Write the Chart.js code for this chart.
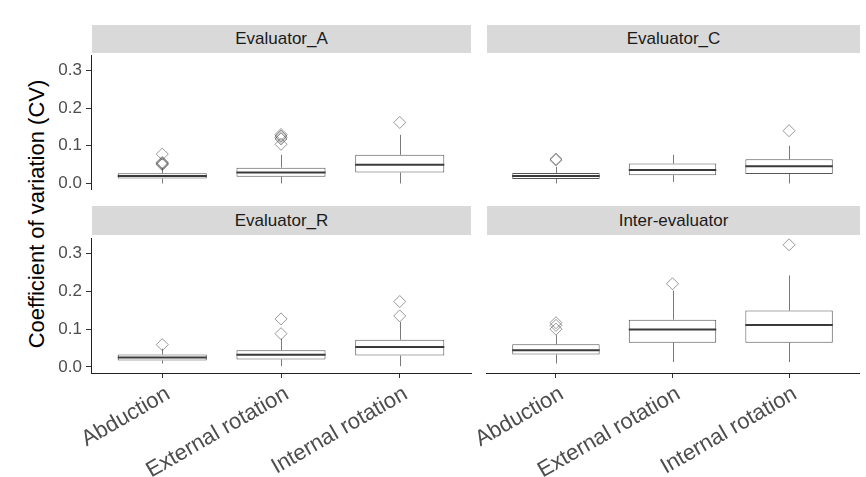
<!DOCTYPE html>
<html>
<head>
<meta charset="utf-8">
<script src="https://cdn.jsdelivr.net/npm/chart.js@4.4.1/dist/chart.umd.min.js"></script>
<style>
  body { margin: 0; background: #fff; }
  #wrap { position: relative; width: 866px; height: 477px; overflow: hidden; font-family: "Liberation Sans", Arial, sans-serif; }
  #wrap canvas { position: absolute; left: 0; top: 0; }
  .strip { position: absolute; background: #d9d9d9; color: #1a1a1a; font-size: 17px; text-align: center; }
  #ytitle { position: absolute; left: 37px; top: 214px; transform: translate(-50%, -50%) rotate(-90deg); font-size: 22px; white-space: nowrap; color: #000; }
</style>
</head>
<body>
<div id="wrap">
  <div class="strip" style="left:92px;top:25px;width:379px;height:28px;line-height:28px">Evaluator_A</div>
  <div class="strip" style="left:487px;top:25px;width:373px;height:28px;line-height:28px">Evaluator_C</div>
  <div class="strip" style="left:92px;top:206px;width:379px;height:29px;line-height:29px">Evaluator_R</div>
  <div class="strip" style="left:487px;top:206px;width:373px;height:29px;line-height:29px">Inter-evaluator</div>
  <div id="ytitle">Coefficient of variation (CV)</div>
  <canvas id="chartA" width="866" height="477"></canvas>
  <canvas id="chartC" width="866" height="477"></canvas>
  <canvas id="chartR" width="866" height="477"></canvas>
  <canvas id="chartI" width="866" height="477"></canvas>
</div>
<script>
const categories = ['Abduction', 'External rotation', 'Internal rotation'];
const yTicks = [0, 0.1, 0.2, 0.3];

// each row: [lower whisker, Q1, median, Q3, upper whisker]
const statsA = [[0.000, 0.013, 0.020, 0.027, 0.042], [0.000, 0.018, 0.029, 0.042, 0.076], [0.000, 0.029, 0.050, 0.076, 0.129]];
const outliersA = [[0.050, 0.052, 0.054, 0.056, 0.078], [0.104, 0.118, 0.122, 0.126, 0.130], [0.162]];

const statsC = [[0.000, 0.012, 0.020, 0.028, 0.044], [0.004, 0.022, 0.036, 0.053, 0.076], [0.000, 0.025, 0.046, 0.064, 0.100]];
const outliersC = [[0.062, 0.065], [], [0.140]];

const statsR = [[0.009, 0.017, 0.025, 0.033, 0.048], [0.002, 0.020, 0.032, 0.044, 0.075], [0.002, 0.030, 0.053, 0.072, 0.119]];
const outliersR = [[0.059], [0.088, 0.127], [0.135, 0.173]];

const statsI = [[0.009, 0.033, 0.044, 0.060, 0.084], [0.013, 0.064, 0.099, 0.125, 0.202], [0.013, 0.064, 0.111, 0.149, 0.242]];
const outliersI = [[0.100, 0.110, 0.117], [0.220], [0.323]];

// whiskers under the boxes, median on top of them
const boxWhisker = {
  id: 'boxWhisker',
  beforeDatasetsDraw(chart, args, opts) {
    const { ctx, scales: { x, y } } = chart;
    ctx.save();
    ctx.strokeStyle = '#7a7a7a';
    ctx.lineWidth = 1;
    opts.stats.forEach((s, i) => {
      const px = Math.round(x.getPixelForValue(i + 1)) + 0.5;
      ctx.beginPath();
      ctx.moveTo(px, y.getPixelForValue(s[0]));
      ctx.lineTo(px, y.getPixelForValue(s[1]));
      ctx.moveTo(px, y.getPixelForValue(s[3]));
      ctx.lineTo(px, y.getPixelForValue(s[4]));
      ctx.stroke();
    });
    ctx.restore();
  },
  afterDatasetDraw(chart, args, opts) {
    if (args.index !== 0) return;
    const { ctx, scales: { y } } = chart;
    ctx.save();
    ctx.strokeStyle = '#3a3a3a';
    ctx.lineWidth = 2;
    args.meta.data.forEach((bar, i) => {
      const { x: bx, width } = bar.getProps(['x', 'width'], true);
      const py = y.getPixelForValue(opts.stats[i][2]);
      ctx.beginPath();
      ctx.moveTo(bx - width / 2, py);
      ctx.lineTo(bx + width / 2, py);
      ctx.stroke();
    });
    ctx.restore();
  }
};

function noPadding(scale) {
  scale.paddingLeft = 0;
  scale.paddingRight = 0;
  scale.paddingTop = 0;
  scale.paddingBottom = 0;
}

function makePanel(canvasId, stats, outliers, padding, showX, showY) {
  const boxData = stats.map((s, i) => ({ x: i + 1, y: [s[1], s[3]] }));
  const pointData = [];
  outliers.forEach((vals, i) => vals.forEach(v => pointData.push({ x: i + 1, y: v })));

  return new Chart(document.getElementById(canvasId), {
    type: 'bar',
    data: {
      datasets: [{
        type: 'bar',
        data: boxData,
        backgroundColor: '#ffffff',
        borderColor: '#555555',
        borderWidth: 1,
        borderSkipped: false,
        barPercentage: 0.75,
        categoryPercentage: 1,
        order: 2
      }, {
        type: 'scatter',
        data: pointData,
        pointStyle: 'rectRot',
        radius: 6,
        borderColor: 'rgba(70, 70, 70, 0.55)',
        backgroundColor: 'rgba(0, 0, 0, 0)',
        borderWidth: 1,
        clip: false,
        order: 1
      }]
    },
    options: {
      responsive: false,
      animation: false,
      devicePixelRatio: 1,
      layout: { padding: padding },
      plugins: {
        legend: { display: false },
        tooltip: { enabled: false },
        boxWhisker: { stats: stats }
      },
      scales: {
        x: {
          type: 'linear',
          min: 0.4,
          max: 3.6,
          offset: false,
          display: showX,
          afterBuildTicks: (scale) => { scale.ticks = [1, 2, 3].map(v => ({ value: v })); },
          afterFit: (scale) => {
            noPadding(scale);
            if (showX) scale.height = 104;
          },
          grid: { offset: false, drawOnChartArea: false, drawTicks: true, tickLength: 5, color: '#333' },
          border: { display: true, color: '#222', width: 1 },
          ticks: {
            autoSkip: false,
            minRotation: 30,
            maxRotation: 30,
            padding: 3,
            labelOffset: 6,
            color: '#4d4d4d',
            font: { family: 'Liberation Sans', size: 22 },
            callback: (v) => categories[v - 1]
          }
        },
        y: {
          min: -0.016,
          max: 0.341,
          display: showY,
          afterBuildTicks: (scale) => { scale.ticks = yTicks.map(v => ({ value: v })); },
          afterFit: (scale) => {
            noPadding(scale);
            if (showY) scale.width = 51;
          },
          grid: { drawOnChartArea: false, drawTicks: true, tickLength: 5, color: '#333' },
          border: { display: true, color: '#222', width: 1 },
          ticks: {
            padding: 4,
            color: '#4d4d4d',
            font: { family: 'Liberation Sans', size: 17 },
            callback: (v) => v.toFixed(1)
          }
        }
      }
    },
    plugins: [boxWhisker]
  });
}

makePanel('chartA', statsA, outliersA, { left: 40, top: 55, right: 395, bottom: 287.5 }, false, true);
makePanel('chartC', statsC, outliersC, { left: 486, top: 55, right: 6, bottom: 287.5 }, false, false);
makePanel('chartR', statsR, outliersR, { left: 40, top: 238, right: 395, bottom: 0 }, true, true);
makePanel('chartI', statsI, outliersI, { left: 486, top: 238, right: 6, bottom: 0 }, true, false);
</script>
</body>
</html>
